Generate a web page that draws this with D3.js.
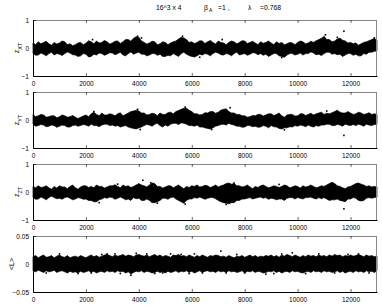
<!DOCTYPE html>
<html><head><meta charset="utf-8">
<script src="https://cdn.jsdelivr.net/npm/d3@7"></script>
<style>body{margin:0;background:#fff}svg{display:block}text{font-family:"Liberation Sans",Arial,sans-serif;fill:#000}</style>
</head><body>
<script>
// Monte Carlo steps 0..13000; band envelope read every 100 steps
const xMax = 13000;
const xTicks = [0,2000,4000,6000,8000,10000,12000];

const zxtUpper = [0.18,0.12,0.22,0.15,0.2,0.24,0.15,0.1,0.2,0.14,0.18,0.25,0.22,0.12,0.15,0.08,0.12,0.18,0.2,0.12,0.17,0.26,0.22,0.15,0.25,0.18,0.2,0.27,0.22,0.14,0.18,0.24,0.25,0.16,0.22,0.3,0.3,0.24,0.35,0.4,0.38,0.25,0.2,0.14,0.18,0.24,0.22,0.12,0.15,0.22,0.2,0.12,0.18,0.22,0.25,0.32,0.38,0.36,0.3,0.2,0.22,0.16,0.2,0.26,0.25,0.16,0.22,0.27,0.2,0.14,0.25,0.2,0.18,0.12,0.2,0.25,0.22,0.15,0.2,0.26,0.25,0.16,0.2,0.24,0.18,0.12,0.22,0.17,0.2,0.25,0.18,0.12,0.22,0.16,0.2,0.12,0.15,0.2,0.18,0.12,0.2,0.25,0.22,0.15,0.18,0.24,0.2,0.26,0.3,0.35,0.42,0.3,0.3,0.22,0.25,0.32,0.35,0.28,0.25,0.18,0.2,0.15,0.18,0.1,0.15,0.2,0.22,0.26,0.3,0.34,0.28];
const zxtLower = [-0.2,-0.26,-0.25,-0.18,-0.22,-0.28,-0.2,-0.15,-0.25,-0.2,-0.22,-0.27,-0.2,-0.14,-0.18,-0.24,-0.25,-0.3,-0.28,-0.2,-0.22,-0.32,-0.3,-0.22,-0.25,-0.18,-0.2,-0.26,-0.22,-0.17,-0.18,-0.24,-0.2,-0.15,-0.25,-0.28,-0.2,-0.14,-0.22,-0.18,-0.15,-0.22,-0.22,-0.28,-0.25,-0.2,-0.2,-0.26,-0.22,-0.3,-0.3,-0.26,-0.28,-0.2,-0.25,-0.3,-0.2,-0.15,-0.22,-0.27,-0.3,-0.32,-0.28,-0.22,-0.25,-0.2,-0.22,-0.28,-0.2,-0.15,-0.18,-0.24,-0.25,-0.2,-0.22,-0.28,-0.2,-0.15,-0.25,-0.22,-0.2,-0.26,-0.22,-0.17,-0.18,-0.24,-0.2,-0.26,-0.22,-0.3,-0.25,-0.2,-0.2,-0.28,-0.3,-0.33,-0.25,-0.2,-0.2,-0.25,-0.22,-0.18,-0.25,-0.2,-0.2,-0.14,-0.18,-0.24,-0.22,-0.27,-0.2,-0.15,-0.15,-0.22,-0.2,-0.24,-0.22,-0.3,-0.25,-0.2,-0.2,-0.26,-0.22,-0.28,-0.28,-0.2,-0.22,-0.15,-0.15,-0.12,-0.1];
const zxtStray = [[11750,0.6],[3950,0.42],[5650,0.42],[11050,0.47],[11500,0.38],[2250,0.3],[12900,0.36],[4100,0.36],[7150,0.3],[6300,-0.33],[9400,-0.34]];

const zytUpper = [0.2,0.12,0.15,0.2,0.18,0.1,0.12,0.15,0.15,0.08,0.12,0.18,0.15,0.1,0.12,0.16,0.1,0.05,0.1,0.14,0.18,0.12,0.22,0.28,0.2,0.15,0.25,0.18,0.18,0.22,0.2,0.15,0.22,0.26,0.15,0.2,0.25,0.3,0.32,0.35,0.32,0.25,0.25,0.18,0.2,0.24,0.22,0.15,0.25,0.2,0.2,0.26,0.28,0.22,0.3,0.34,0.38,0.42,0.42,0.35,0.3,0.22,0.22,0.18,0.2,0.26,0.25,0.3,0.3,0.24,0.28,0.35,0.38,0.4,0.3,0.25,0.25,0.2,0.2,0.15,0.15,0.1,0.12,0.16,0.15,0.2,0.2,0.14,0.18,0.22,0.22,0.16,0.2,0.25,0.15,0.1,0.18,0.2,0.2,0.14,0.15,0.22,0.22,0.16,0.2,0.24,0.18,0.22,0.25,0.28,0.2,0.24,0.22,0.26,0.3,0.35,0.28,0.25,0.25,0.3,0.25,0.2,0.22,0.28,0.25,0.2,0.22,0.26,0.2,0.22,0.2];
const zytLower = [-0.15,-0.22,-0.2,-0.16,-0.18,-0.24,-0.22,-0.18,-0.2,-0.26,-0.22,-0.18,-0.2,-0.25,-0.25,-0.2,-0.18,-0.22,-0.2,-0.16,-0.18,-0.22,-0.15,-0.2,-0.2,-0.24,-0.18,-0.15,-0.15,-0.2,-0.18,-0.22,-0.2,-0.25,-0.22,-0.2,-0.25,-0.28,-0.3,-0.32,-0.28,-0.25,-0.2,-0.16,-0.18,-0.22,-0.15,-0.12,-0.2,-0.25,-0.18,-0.22,-0.15,-0.12,-0.12,-0.16,-0.1,-0.12,-0.15,-0.2,-0.2,-0.22,-0.18,-0.25,-0.25,-0.28,-0.3,-0.32,-0.28,-0.22,-0.2,-0.16,-0.15,-0.18,-0.12,-0.16,-0.18,-0.22,-0.22,-0.26,-0.25,-0.2,-0.2,-0.24,-0.22,-0.26,-0.25,-0.2,-0.22,-0.28,-0.2,-0.24,-0.25,-0.3,-0.32,-0.28,-0.28,-0.24,-0.25,-0.2,-0.22,-0.18,-0.2,-0.24,-0.18,-0.22,-0.25,-0.2,-0.22,-0.18,-0.18,-0.15,-0.15,-0.2,-0.2,-0.16,-0.18,-0.22,-0.15,-0.18,-0.2,-0.16,-0.2,-0.15,-0.18,-0.22,-0.15,-0.18,-0.2,-0.16,-0.15];
const zytStray = [[11750,-0.55],[7450,0.44],[5750,0.46],[3950,0.38],[6750,-0.34],[9500,-0.35],[4050,-0.34],[2300,0.3],[11100,0.32]];

const zztUpper = [0.2,0.15,0.22,0.16,0.18,0.22,0.15,0.1,0.2,0.14,0.22,0.18,0.18,0.12,0.2,0.25,0.15,0.1,0.18,0.22,0.22,0.16,0.2,0.15,0.25,0.2,0.2,0.14,0.18,0.22,0.22,0.26,0.2,0.15,0.25,0.2,0.22,0.16,0.2,0.25,0.3,0.25,0.22,0.18,0.25,0.32,0.3,0.2,0.2,0.14,0.18,0.22,0.22,0.15,0.2,0.25,0.18,0.12,0.2,0.16,0.22,0.2,0.25,0.18,0.2,0.24,0.22,0.16,0.2,0.25,0.18,0.22,0.25,0.3,0.32,0.28,0.3,0.22,0.22,0.18,0.2,0.25,0.18,0.12,0.2,0.16,0.22,0.25,0.2,0.15,0.18,0.22,0.2,0.16,0.2,0.25,0.22,0.15,0.18,0.22,0.2,0.14,0.22,0.18,0.2,0.25,0.2,0.15,0.18,0.22,0.2,0.25,0.3,0.35,0.3,0.22,0.2,0.15,0.12,0.18,0.2,0.25,0.3,0.32,0.28,0.25,0.2,0.22,0.18,0.2,0.18];
const zztLower = [-0.2,-0.26,-0.25,-0.18,-0.22,-0.28,-0.2,-0.15,-0.2,-0.24,-0.22,-0.26,-0.2,-0.18,-0.22,-0.28,-0.25,-0.2,-0.22,-0.26,-0.25,-0.3,-0.3,-0.35,-0.35,-0.28,-0.25,-0.2,-0.22,-0.18,-0.2,-0.26,-0.22,-0.18,-0.22,-0.28,-0.25,-0.3,-0.2,-0.24,-0.22,-0.3,-0.3,-0.25,-0.3,-0.38,-0.38,-0.35,-0.3,-0.22,-0.22,-0.26,-0.2,-0.18,-0.25,-0.3,-0.35,-0.4,-0.3,-0.25,-0.25,-0.2,-0.22,-0.18,-0.22,-0.26,-0.22,-0.2,-0.2,-0.24,-0.3,-0.35,-0.38,-0.4,-0.42,-0.38,-0.38,-0.3,-0.3,-0.25,-0.25,-0.22,-0.2,-0.25,-0.22,-0.2,-0.18,-0.22,-0.2,-0.26,-0.22,-0.24,-0.28,-0.25,-0.25,-0.3,-0.22,-0.2,-0.2,-0.25,-0.2,-0.22,-0.25,-0.2,-0.2,-0.18,-0.22,-0.25,-0.2,-0.24,-0.2,-0.25,-0.3,-0.28,-0.28,-0.25,-0.3,-0.32,-0.35,-0.25,-0.25,-0.2,-0.22,-0.3,-0.32,-0.3,-0.22,-0.2,-0.22,-0.2,-0.18];
const zztStray = [[11750,-0.6],[4150,0.42],[4450,0.33],[5750,-0.43],[7600,0.32],[2500,-0.38],[7300,-0.44],[4700,-0.4],[3200,0.28],[9300,0.27]];

const lUpper = [0.013,0.015,0.011,0.014,0.016,0.012,0.013,0.015,0.011,0.014,0.016,0.013,0.012,0.015,0.011,0.013,0.014,0.012,0.015,0.013,0.011,0.014,0.016,0.013,0.015,0.012,0.014,0.016,0.017,0.015,0.013,0.016,0.014,0.015,0.017,0.014,0.016,0.015,0.013,0.016,0.017,0.015,0.014,0.016,0.013,0.015,0.017,0.014,0.016,0.013,0.015,0.014,0.012,0.016,0.015,0.017,0.014,0.015,0.013,0.016,0.014,0.012,0.015,0.013,0.016,0.014,0.012,0.015,0.014,0.016,0.015,0.013,0.014,0.012,0.015,0.013,0.011,0.014,0.013,0.015,0.012,0.014,0.016,0.013,0.015,0.012,0.014,0.013,0.015,0.014,0.016,0.013,0.015,0.012,0.016,0.014,0.017,0.015,0.013,0.016,0.014,0.012,0.015,0.013,0.016,0.014,0.015,0.013,0.016,0.014,0.015,0.013,0.016,0.014,0.017,0.015,0.016,0.013,0.015,0.014,0.016,0.014,0.015,0.017,0.015,0.013,0.016,0.014,0.015,0.013,0.014];
const lLower = [-0.012,-0.014,-0.011,-0.013,-0.015,-0.012,-0.014,-0.013,-0.011,-0.015,-0.013,-0.012,-0.014,-0.016,-0.013,-0.015,-0.014,-0.016,-0.013,-0.015,-0.014,-0.012,-0.015,-0.013,-0.016,-0.014,-0.013,-0.015,-0.012,-0.014,-0.013,-0.015,-0.012,-0.014,-0.013,-0.016,-0.014,-0.018,-0.015,-0.013,-0.014,-0.012,-0.015,-0.013,-0.014,-0.016,-0.015,-0.013,-0.015,-0.014,-0.016,-0.013,-0.015,-0.014,-0.012,-0.015,-0.013,-0.014,-0.012,-0.015,-0.013,-0.016,-0.014,-0.012,-0.015,-0.013,-0.012,-0.014,-0.013,-0.015,-0.012,-0.014,-0.013,-0.015,-0.012,-0.014,-0.013,-0.015,-0.014,-0.012,-0.016,-0.013,-0.014,-0.012,-0.015,-0.013,-0.014,-0.016,-0.015,-0.013,-0.014,-0.012,-0.015,-0.013,-0.016,-0.014,-0.013,-0.015,-0.012,-0.014,-0.013,-0.015,-0.016,-0.014,-0.013,-0.015,-0.012,-0.014,-0.013,-0.015,-0.012,-0.014,-0.013,-0.015,-0.014,-0.012,-0.015,-0.013,-0.016,-0.014,-0.013,-0.015,-0.012,-0.014,-0.013,-0.015,-0.012,-0.014,-0.013,-0.015,-0.012];
const lStray = [[7100,0.023],[3700,-0.02],[8800,-0.018],[9800,0.02],[1000,0.018],[2800,0.018],[3900,0.019],[5200,0.018],[4600,-0.017],[10300,-0.017],[8000,-0.016],[12300,0.018],[1700,-0.017],[6400,-0.016],[11400,-0.016],[9400,0.018],[2600,0.017],[3100,0.018],[4300,0.018],[5600,0.017],[6100,0.018],[7700,0.017],[10800,0.018],[11900,0.017],[500,-0.016],[2200,-0.016],[3300,-0.017],[4900,-0.016],[5900,-0.017],[7300,-0.016],[9100,-0.017],[12700,-0.016]];

const panels = [
  {name:"XT", upper:zxtUpper, lower:zxtLower, stray:zxtStray, dom:[-1,1], ticks:[-1,0,1]},
  {name:"YT", upper:zytUpper, lower:zytLower, stray:zytStray, dom:[-1,1], ticks:[-1,0,1]},
  {name:"ZT", upper:zztUpper, lower:zztLower, stray:zztStray, dom:[-1,1], ticks:[-1,0,1]},
  {name:"L",  upper:lUpper,  lower:lLower,  stray:lStray,  dom:[-0.05,0.05], ticks:[-0.05,0,0.05]}
];

const W=382,H=305;
const svg = d3.select("body").append("svg").attr("width",W).attr("height",H);
const x = d3.scaleLinear().domain([0,xMax]).range([33,377]);
const tops=[20,92,164,236], ph=56;
const fmtY = v => (v<0?"\u2212":"") + (Math.abs(v)===0.05?"0.05":String(Math.abs(v)));

panels.forEach((p,k)=>{
  const y = d3.scaleLinear().domain(p.dom).range([tops[k]+ph, tops[k]]);
  const g = svg.append("g");
  [p.upper,p.lower].forEach(arr=>{
    const n = arr.length;
    const data = arr.map((v,i)=>({t:i*xMax/(n-1), v:v}));
    g.append("path").datum(data)
      .attr("d", d3.area().x(d=>x(d.t)).y0(y(0)).y1(d=>y(d.v)))
      .attr("fill","#000").attr("stroke","#000").attr("stroke-width",0.7).attr("stroke-linejoin","miter");
  });
  g.selectAll("rect.s").data(p.stray).enter().append("rect")
    .attr("x",d=>x(d[0])-0.8).attr("y",d=>y(d[1])-0.8).attr("width",1.6).attr("height",1.6).attr("fill","#000");
  const x0=33,x1=377,y0=tops[k]+ph,y1=tops[k];
  g.append("line").attr("x1",x0).attr("x2",x1).attr("y1",y1+0.5).attr("y2",y1+0.5).attr("stroke","#888");
  g.append("line").attr("x1",x1-0.5).attr("x2",x1-0.5).attr("y1",y1).attr("y2",y0).attr("stroke","#888");
  const ax = d3.axisBottom(x).tickValues(xTicks).tickSize(-3).tickSizeOuter(0).tickPadding(5).tickFormat(d3.format("d"));
  const gx = g.append("g").attr("transform",`translate(0,${y0})`).call(ax);
  const axT = d3.axisTop(x).tickValues(xTicks).tickSize(-3).tickSizeOuter(0).tickFormat("");
  const gxt = g.append("g").attr("transform",`translate(0,${y1})`).call(axT);
  gxt.select(".domain").remove();
  const ay = d3.axisLeft(y).tickValues(p.ticks).tickSize(-3).tickSizeOuter(0).tickPadding(4).tickFormat(fmtY);
  const gy = g.append("g").attr("transform",`translate(${x0},0)`).call(ay);
  [gx,gy].forEach(a=>{a.selectAll("text").style("font-size","6.5px").style("font-family","Liberation Sans, Arial, sans-serif");});
  gx.selectAll("text").attr("dy","0.71em");
  svg.selectAll(".domain").attr("stroke","#000");
  svg.selectAll(".tick line").attr("stroke","#000").attr("stroke-width",0.6);
  const cy = tops[k]+ph/2;
  const lab = g.append("text").attr("transform",`translate(${p.name==="L"?14:19},${cy}) rotate(-90)`)
    .attr("text-anchor","middle").style("font-size","7px");
  if(p.name==="L"){ lab.text("<L>"); }
  else {
    lab.append("tspan").text("z");
    lab.append("tspan").attr("dy","2.5").style("font-size","5.5px").text(p.name);
  }
});

// title
const t = svg.append("g").style("font-size","6.8px");
t.append("text").attr("x",156).attr("y",10).text("16^3 x 4");
t.append("text").attr("x",204).attr("y",10).text("\u03b2");
t.append("text").attr("x",209).attr("y",12).style("font-size","5px").text("A");
t.append("text").attr("x",218).attr("y",10).text("=1 ,");
t.append("text").attr("x",248).attr("y",10).text("\u03bb");
t.append("text").attr("x",260).attr("y",10).text("=0.768");
</script>
</body></html>
